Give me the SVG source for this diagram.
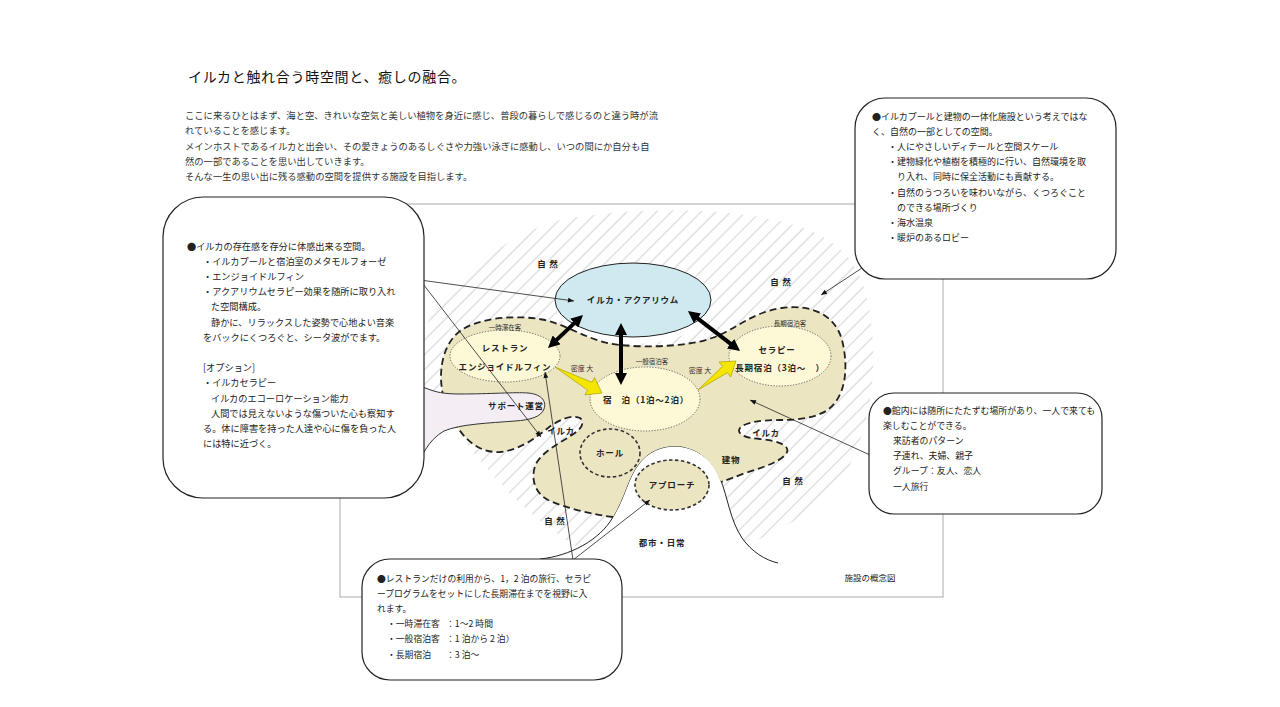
<svg xmlns="http://www.w3.org/2000/svg" width="1280" height="707" viewBox="0 0 1280 707">
<style>
.t{font-family:"Noto Sans CJK JP","Noto Sans",sans-serif;fill:#222}
.ti{font-size:14px;letter-spacing:0.7px;fill:#111}
.in{font-size:9.3px;fill:#333}
.pl{font-size:9.2px}
.pr{font-size:9px}
.pm{font-size:8.9px}
.pb{font-size:8.8px}
.lb{font-size:8.5px;font-weight:bold;text-anchor:middle;letter-spacing:0.8px}
.sm{font-size:6.5px;text-anchor:middle;fill:#333}
.md{font-size:7px;text-anchor:middle;fill:#333}
.box{fill:#fff;stroke:#222;stroke-width:1.2}
.ptr{stroke:#222;stroke-width:0.8;fill:none;marker-end:url(#ah)}
.dbl{stroke:#000;stroke-width:4;fill:none;marker-start:url(#bh);marker-end:url(#bh)}
.bd{fill:none;stroke:#222;stroke-width:1.8;stroke-dasharray:7 4}
.dot{fill:#fdf8d6;stroke:#555;stroke-width:0.9;stroke-dasharray:1.2 1.6}
.sd{fill:none;stroke:#333;stroke-width:1.6;stroke-dasharray:3.5 2.5}
.sdt{fill:#ece5c2;stroke:#333;stroke-width:1.6;stroke-dasharray:3.5 2.5}
.yl{fill:#f4e600;stroke:#a09000;stroke-width:0.6}
</style>
<defs>
<pattern id="hatch" width="10.5" height="10.5" patternUnits="userSpaceOnUse" patternTransform="rotate(-45)">
<line x1="0" y1="5" x2="10.5" y2="5" stroke="#c4c4c4" stroke-width="0.8"/>
</pattern>
<marker id="bh" viewBox="0 0 10 10" refX="5" refY="5" markerWidth="3" markerHeight="3" orient="auto-start-reverse">
<path d="M0,0 L10,5 L0,10 z" fill="#000"/>
</marker>
<marker id="ah" viewBox="0 0 10 10" refX="10" refY="5" markerWidth="7" markerHeight="6" markerUnits="userSpaceOnUse" orient="auto">
<path d="M0,1 L10,5 L0,9 z" fill="#111"/>
</marker>
</defs>
<rect width="1280" height="707" fill="#fff"/>

<g id="header">
<text class="t ti" x="188" y="82">イルカと触れ合う時空間と、癒しの融合。</text>
<text class="t in" x="185" y="118.5">ここに来るひとはまず、海と空、きれいな空気と美しい植物を身近に感じ、普段の暮らしで感じるのと違う時が流</text>
<text class="t in" x="185" y="133.5">れていることを感じます。</text>
<text class="t in" x="185" y="149.5">メインホストであるイルカと出会い、その愛きょうのあるしぐさや力強い泳ぎに感動し、いつの間にか自分も自</text>
<text class="t in" x="185" y="164.5">然の一部であることを思い出していきます。</text>
<text class="t in" x="185" y="179.5">そんな一生の思い出に残る感動の空間を提供する施設を目指します。</text>
</g>

<g id="nature">
<path d="M424,386 L424,330 C440,295 490,240 560,220 C640,205 760,205 822,236 C856,255 868,285 872,330 C876,370 872,420 850,465 C830,500 795,525 750,543 L650,565 L585,552 C540,525 500,490 455,428 Z" fill="url(#hatch)"/>
<ellipse cx="633" cy="307" rx="76" ry="37" fill="#fff"/>
</g>

<g id="city">
<path d="M540,559 C570,556 600,540 613,517 C625,497 628,478 638,465 C648,451 662,446 676,446 C695,447 712,458 720,478 C728,498 730,520 742,538 C752,552 765,560 778,563 L790,595 L540,595 Z" fill="#fff"/>
<path d="M540,559 C570,556 600,540 613,517 C625,497 628,478 638,465 C648,451 662,446 676,446 C695,447 712,458 720,478 C728,498 730,520 742,538 C752,552 765,560 778,563" fill="none" stroke="#222" stroke-width="1"/>
</g>

<g id="frame">
<rect x="340" y="204" width="603" height="393" fill="none" stroke="#aaa" stroke-width="1"/>
</g>

<g id="building">
<path d="M443,395 C438,372 442,345 460,331 C478,318 515,314 545,320 C570,326 590,342 620,345 C650,348 690,346 712,338 C735,330 752,312 782,308 C812,304 835,315 842,340 C849,368 846,398 826,411 C812,419 795,420 780,420 C762,420 745,422 740,428 C736,434 745,438 760,439 C775,440 790,445 787,452 C784,460 765,467 745,473 C735,477 727,480 721,482 C712,458 695,447 676,446 C662,446 648,451 638,465 C628,478 625,497 613,517 C595,515 565,508 548,500 C533,492 530,475 537,462 C545,450 560,443 572,435 C580,430 586,423 580,418 C572,414 558,420 548,428 C535,438 520,450 500,452 C482,453 468,443 458,428 C450,418 446,405 443,395 Z" fill="#ece5c2"/>
<path class="bd" d="M613,517 C595,515 565,508 548,500 C533,492 530,475 537,462 C545,450 560,443 572,435 C580,430 586,423 580,418 C572,414 558,420 548,428 C535,438 520,450 500,452 C482,453 468,443 458,428 C450,418 446,405 443,395 C438,372 442,345 460,331 C478,318 515,314 545,320 C570,326 590,342 620,345 C650,348 690,346 712,338 C735,330 752,312 782,308 C812,304 835,315 842,340 C849,368 846,398 826,411 C812,419 795,420 780,420 C762,420 745,422 740,428 C736,434 745,438 760,439 C775,440 790,445 787,452 C784,460 765,467 745,473 C735,477 727,480 721,482"/>
<text class="t lb" x="731" y="463">建物</text>
<text class="t lb" x="561" y="434">イルカ</text>
<text class="t lb" x="766" y="436">イルカ</text>
</g>

<g id="support">
<path d="M400,383 C412,384 420,386 428,389 C436,392 443,394 460,394 C490,394 515,392 528,393 C540,394 547,400 544,409 C541,417 530,420 515,421 C490,423 460,424 444,431 C428,440 419,458 415,478 L395,478 Z" fill="#f4eef4" stroke="#333" stroke-width="1"/>
<text class="t lb" x="516" y="409">サポート運営</text>
</g>

<g id="aquarium">
<ellipse cx="633" cy="300" rx="78" ry="37" fill="#cfe9f0" stroke="#222" stroke-width="1"/>
<text class="t lb" x="633" y="303">イルカ・アクアリウム</text>
</g>

<g id="restaurant">
<ellipse class="dot" cx="505" cy="356" rx="55" ry="26"/>
<text class="t sm" x="505" y="330">一時滞在客</text>
<text class="t lb" x="505" y="351">レストラン</text>
<text class="t lb" x="505" y="370">エンジョイドルフィン</text>
</g>

<g id="stay">
<ellipse class="dot" cx="645" cy="399" rx="55" ry="32"/>
<text class="t sm" x="652" y="364">一般宿泊客</text>
<text class="t lb" x="646" y="403">宿　泊（1泊～2泊）</text>
</g>

<g id="therapy">
<ellipse class="dot" cx="780" cy="356" rx="51" ry="30"/>
<text class="t sm" x="790" y="326">長期宿泊客</text>
<text class="t lb" x="777" y="353">セラピー</text>
<text class="t lb" x="780" y="371">長期宿泊（3泊～　）</text>
</g>

<g id="hall">
<ellipse class="sd" cx="610" cy="453" rx="30" ry="24"/>
<text class="t lb" x="610" y="456">ホール</text>
</g>

<g id="approach">
<ellipse class="sdt" cx="672" cy="485" rx="37" ry="25"/>
<text class="t lb" x="672" y="488">アプローチ</text>
</g>

<g id="labels">
<text class="t lb" x="548" y="267">自 然</text>
<text class="t lb" x="781" y="285">自 然</text>
<text class="t lb" x="793" y="484">自 然</text>
<text class="t lb" x="555" y="524">自 然</text>
<text class="t lb" x="662" y="546">都市・日常</text>
<text class="t md" x="582" y="371">密度 大</text>
<text class="t md" x="700" y="373">密度 大</text>
<text class="t" x="870" y="581" font-size="8.5" text-anchor="middle" fill="#333">施設の概念図</text>
</g>

<g id="connectors">
<line class="dbl" x1="578.6" y1="319.1" x2="552.4" y2="343.9"/>
<line class="dbl" x1="621" y1="329" x2="621" y2="379"/>
<line class="dbl" x1="692.7" y1="314.7" x2="735.3" y2="347.3"/>
<polygon class="yl" points="555,367 591.9,382.3 594.5,377.5 602,393 584.9,394.9 587.5,390.1"/>
<polygon class="yl" points="698,390 722.5,366.3 719.1,362 736,361 730.7,377 727.3,372.7"/>
<path class="ptr" d="M420,280 L574,301"/>
<path class="ptr" d="M420,280 L541,437"/>
<path class="ptr" d="M573,560 L545,372"/>
<path class="ptr" d="M573,560 L650,500"/>
<path class="ptr" d="M862,268 L821,295"/>
<path class="ptr" d="M870,455 L750,400"/>
</g>

<g id="box-left">
<rect class="box" x="163" y="197" width="261" height="301" rx="40"/>
<text class="t pl" x="187" y="249.5">●イルカの存在感を存分に体感出来る空間。</text>
<text class="t pl" x="203" y="264.7">・イルカプールと宿泊室のメタモルフォーゼ</text>
<text class="t pl" x="203" y="279.9">・エンジョイドルフィン</text>
<text class="t pl" x="203" y="295.1">・アクアリウムセラピー効果を随所に取り入れ</text>
<text class="t pl" x="211" y="310.3">た空間構成。</text>
<text class="t pl" x="211" y="325.5">静かに、リラックスした姿勢で心地よい音楽</text>
<text class="t pl" x="203" y="340.7">をバックにくつろぐと、シータ波がでます。</text>
<text class="t pl" x="203" y="371.1">[オプション]</text>
<text class="t pl" x="203" y="386.3">・イルカセラピー</text>
<text class="t pl" x="211" y="401.5">イルカのエコーロケーション能力</text>
<text class="t pl" x="211" y="416.7">人間では見えないような傷ついた心も察知す</text>
<text class="t pl" x="203" y="431.9">る。体に障害を持った人達や心に傷を負った人</text>
<text class="t pl" x="203" y="447.1">には特に近づく。</text>
</g>

<g id="box-top-right">
<rect class="box" x="855" y="98" width="261" height="181" rx="30"/>
<text class="t pr" x="872" y="119.5">●イルカプールと建物の一体化施設という考えではな</text>
<text class="t pr" x="872" y="134.7">く、自然の一部としての空間。</text>
<text class="t pr" x="888" y="149.9">・人にやさしいディテールと空間スケール</text>
<text class="t pr" x="888" y="165.1">・建物緑化や植樹を積極的に行い、自然環境を取</text>
<text class="t pr" x="897" y="180.3">り入れ、同時に保全活動にも貢献する。</text>
<text class="t pr" x="888" y="195.5">・自然のうつろいを味わいながら、くつろぐこと</text>
<text class="t pr" x="897" y="210.7">のできる場所づくり</text>
<text class="t pr" x="888" y="225.9">・海水温泉</text>
<text class="t pr" x="888" y="241.1">・暖炉のあるロビー</text>
</g>

<g id="box-right">
<rect class="box" x="869" y="393" width="233" height="121" rx="25"/>
<text class="t pm" x="883" y="413.5">●館内には随所にたたずむ場所があり、一人で来ても</text>
<text class="t pm" x="883" y="428.7">楽しむことができる。</text>
<text class="t pm" x="893" y="443.9">来訪者のパターン</text>
<text class="t pm" x="893" y="459.1">子連れ、夫婦、親子</text>
<text class="t pm" x="893" y="474.3">グループ：友人、恋人</text>
<text class="t pm" x="893" y="489.5">一人旅行</text>
</g>

<g id="box-bottom">
<rect class="box" x="362" y="559" width="260" height="121" rx="28"/>
<text class="t pb" x="377" y="581.5">●レストランだけの利用から、1，2 泊の旅行、セラピ</text>
<text class="t pb" x="377" y="596.7">ープログラムをセットにした長期滞在までを視野に入</text>
<text class="t pb" x="377" y="611.9">れます。</text>
<text class="t pb" x="387" y="627.1">・一時滞在客</text>
<text class="t pb" x="446" y="627.1">：1～2 時間</text>
<text class="t pb" x="387" y="642.3">・一般宿泊客</text>
<text class="t pb" x="446" y="642.3">：1 泊から 2 泊）</text>
<text class="t pb" x="387" y="657.5">・長期宿泊</text>
<text class="t pb" x="446" y="657.5">：3 泊～</text>
</g>
</svg>
